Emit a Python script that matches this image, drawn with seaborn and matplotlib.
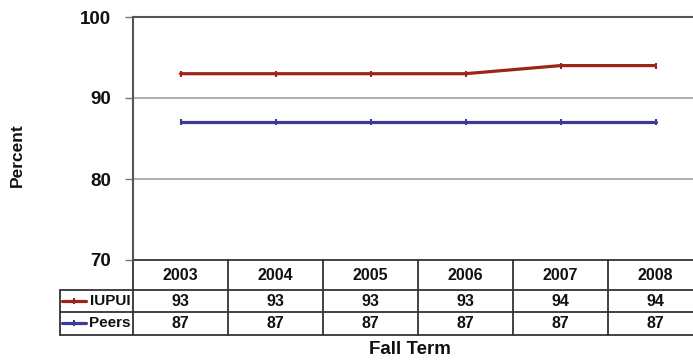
import matplotlib
matplotlib.use("Agg")
import matplotlib.pyplot as plt
import seaborn as sns
import pandas as pd

years = ["2003", "2004", "2005", "2006", "2007", "2008"]
iupui = [93, 93, 93, 93, 94, 94]
peers = [87, 87, 87, 87, 87, 87]
series_names = ["IUPUI", "Peers"]
colors = ["#9E2418", "#3B3A9C"]
yticks = [70, 80, 90, 100]

sns.set_theme(style="white")
plt.rcParams["font.family"] = ["Liberation Sans", "DejaVu Sans"]
plt.rcParams["font.weight"] = "bold"
plt.rcParams["text.color"] = "#111111"
plt.rcParams["ytick.color"] = "#111111"
plt.rcParams["axes.labelcolor"] = "#111111"

df = pd.DataFrame({
    "year": years * 2,
    "x": list(range(len(years))) * 2,
    "value": iupui + peers,
    "series": [series_names[0]] * len(years) + [series_names[1]] * len(years),
})

W, H = 693, 362
fig = plt.figure(figsize=(W / 100, H / 100), dpi=100)
L, R, T, B = 133, 703, 17, 260
ax = fig.add_axes([L / W, 1 - B / H, (R - L) / W, (B - T) / H])

sns.lineplot(data=df, x="x", y="value", hue="series", palette=colors,
             marker="|", markersize=5, markeredgewidth=1.5, linewidth=2.3,
             legend=False, ax=ax)
for ln in ax.lines:
    ln.set_markeredgecolor(ln.get_color())
    ln.set_markerfacecolor(ln.get_color())

ax.set_xlim(-0.5, len(years) - 0.5)
ax.set_ylim(70, 100)
ax.set_yticks(yticks)
ax.set_yticklabels([str(t) for t in yticks], fontsize=13.5, fontweight="bold",
                   color="#111111")
ax.set_xticks([])
ax.set_xlabel("")
ax.set_ylabel("Percent", fontsize=12.5, fontweight="bold", color="#111111")
ax.yaxis.set_label_coords(-0.19, 0.43)
ax.tick_params(axis="y", length=6, width=1, color="#777777", pad=10, left=True)
for t in [80, 90]:
    ax.axhline(t, color="#A0A0A0", lw=1.2, zorder=0)
for s in ["top", "left"]:
    ax.spines[s].set_color("#555555")
    ax.spines[s].set_linewidth(1.5)
ax.spines["bottom"].set_visible(False)
ax.spines["right"].set_visible(False)

# data table below the axes
def px(xp):
    return (xp - L) / (R - L)

def py(yp):
    return (B - yp) / (B - T)

lc = "#333333"
tkw = dict(transform=ax.transAxes, clip_on=False, color=lc, lw=1.3)
col_w = (R - L) / len(years)
rows_y = [260, 290, 312, 335]
ax.plot([px(L), px(R)], [py(260), py(260)], **tkw)
for yp in rows_y[1:]:
    ax.plot([px(60), px(R)], [py(yp), py(yp)], **tkw)
ax.plot([px(60), px(60)], [py(290), py(335)], **tkw)
for k in range(len(years) + 1):
    xp = L + k * col_w
    ax.plot([px(xp), px(xp)], [py(260), py(335)], **tkw)

fs = 11.5
for k, yr in enumerate(years):
    xc = L + (k + 0.5) * col_w
    ax.text(px(xc), py(275), yr, transform=ax.transAxes, ha="center",
            va="center", fontsize=fs, fontweight="bold", color="#111111")
    ax.text(px(xc), py(301), str(iupui[k]), transform=ax.transAxes,
            ha="center", va="center", fontsize=fs, fontweight="bold",
            color="#111111")
    ax.text(px(xc), py(323), str(peers[k]), transform=ax.transAxes,
            ha="center", va="center", fontsize=fs, fontweight="bold",
            color="#111111")

for name, c, yc in zip(series_names, colors, [301, 323]):
    ax.plot([px(62), px(86)], [py(yc), py(yc)], transform=ax.transAxes,
            clip_on=False, color=c, lw=2.3)
    ax.plot([px(74)], [py(yc)], transform=ax.transAxes, clip_on=False,
            color=c, marker="|", markersize=5, markeredgewidth=1.5)
    ax.text(px(131), py(yc), name, transform=ax.transAxes, ha="right",
            va="center", fontsize=11, fontweight="bold", color="#111111")

fig.text(410 / W, 1 - 350 / H, "Fall Term", ha="center", va="center",
         fontsize=13.5, fontweight="bold", color="#111111")

fig.savefig("out.png", dpi=100)
